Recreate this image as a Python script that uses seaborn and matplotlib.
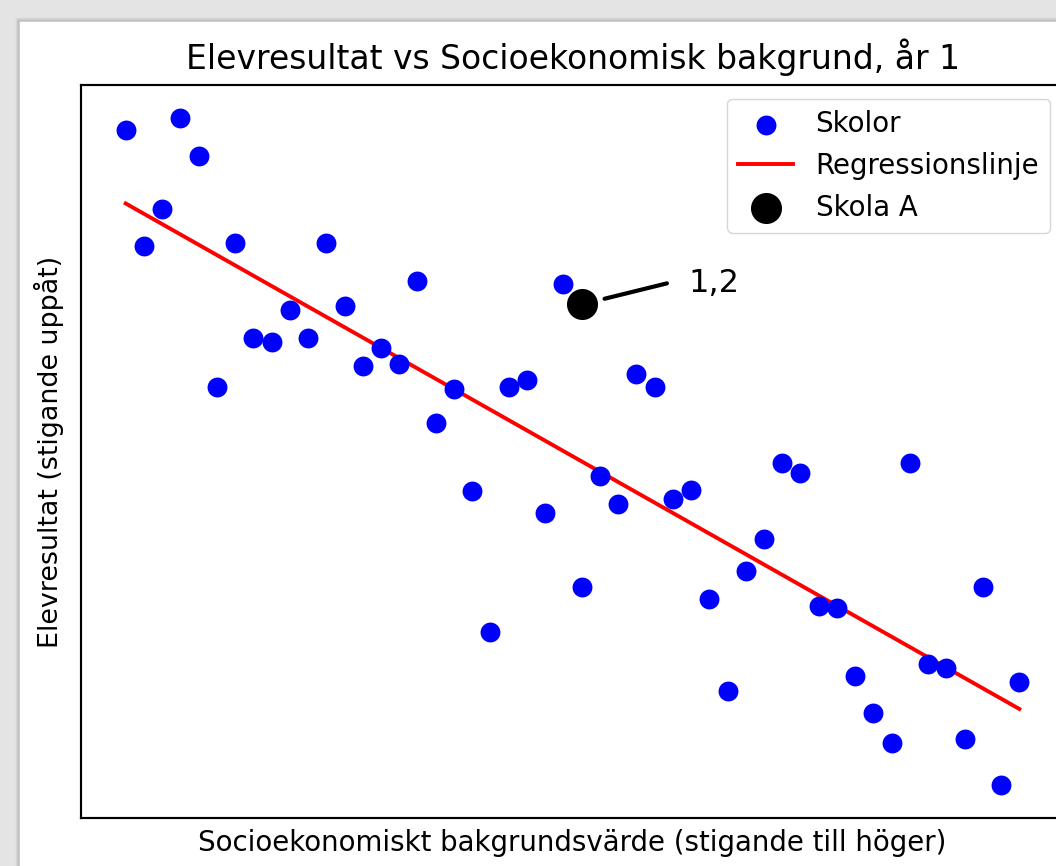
import numpy as np
import pandas as pd
import matplotlib
matplotlib.use("Agg")
import matplotlib.pyplot as plt
from matplotlib.patches import Rectangle
import seaborn as sns

# bakgrundsvärde (x) och elevresultat (y) för skolorna
bakgrund = [1, 2, 3, 4, 5, 6, 7, 8, 9, 10,
            11, 12, 13, 14, 15, 16, 17, 18, 19, 20,
            21, 22, 23, 24, 25, 26, 27, 28, 29, 30,
            31, 32, 33, 34, 35, 36, 37, 38, 39, 40,
            41, 42, 43, 44, 45, 46, 47, 48, 49, 50]
resultat = [6.69, 5.53, 5.90, 6.81, 6.43, 4.12, 5.56, 4.61, 4.57, 4.89,
            4.61, 5.56, 4.93, 4.33, 4.51, 4.35, 5.18, 3.76, 4.10, 3.09,
            1.68, 4.12, 4.19, 2.87, 5.15, 2.13, 3.24, 2.96, 4.25, 4.12,
            3.01, 3.10, 2.01, 1.09, 2.29, 2.61, 3.37, 3.27, 1.94, 1.92,
            1.24, 0.87, 0.57, 3.37, 1.36, 1.32, 0.61, 2.13, 0.15, 1.18]

skola_a_x = [26]
skola_a_y = [4.95]
skola_a_text = "1,2"

df = pd.DataFrame({"bakgrund": bakgrund, "resultat": resultat})
df_a = pd.DataFrame({"bakgrund": skola_a_x, "resultat": skola_a_y})

fig = plt.figure(figsize=(10.56, 8.66), dpi=100)

# grå skärmbildsram uppe och till vänster
fig.patches.append(Rectangle((0, 0), 1, 1, transform=fig.transFigure,
                             color="#e4e4e4", zorder=-10))
for i, c in enumerate(["#d8d8d8", "#cccccc", "#c2c2c2"]):
    d = 4 - i
    fig.patches.append(Rectangle(((20 - d) / 1056, 0), 1, (866 - 22 + d) / 866,
                                 transform=fig.transFigure, color=c, zorder=-9 + i))
fig.patches.append(Rectangle((20 / 1056, 0), 1, (866 - 22) / 866,
                             transform=fig.transFigure, color="white", zorder=-5))

ax = fig.add_axes([81 / 1056, 48 / 866, 983 / 1056, 733 / 866])
ax.patch.set_alpha(0)

sns.scatterplot(data=df, x="bakgrund", y="resultat", ax=ax, color="blue",
                s=205, linewidth=0, label="Skolor", zorder=3)
sns.regplot(data=df, x="bakgrund", y="resultat", ax=ax, scatter=False, ci=None,
            color="red", label="Regressionslinje", line_kws={"lw": 2.8})
sns.scatterplot(data=df_a, x="bakgrund", y="resultat", ax=ax, color="black",
                s=500, linewidth=0, label="Skola A", zorder=4)

ax.annotate(skola_a_text, xy=(skola_a_x[0], skola_a_y[0]), xytext=(77, 15),
            textcoords="offset points", fontsize=23, va="center", ha="left",
            arrowprops=dict(arrowstyle="-", color="black", lw=3,
                            relpos=(0, 0.68), shrinkA=14, shrinkB=17))

ax.set_xticks([])
ax.set_yticks([])
for sp in ax.spines.values():
    sp.set_linewidth(1.55)

ax.set_title("Elevresultat vs Socioekonomisk bakgrund, år 1", fontsize=23.8, pad=11.6)
ax.set_xlabel("Socioekonomiskt bakgrundsvärde (stigande till höger)", fontsize=19.9, labelpad=7.8)
ax.set_ylabel("Elevresultat (stigande uppåt)", fontsize=19.4, labelpad=12)

ax.legend(loc="upper right", fontsize=19.9)

plt.savefig("out.png", dpi=100)
